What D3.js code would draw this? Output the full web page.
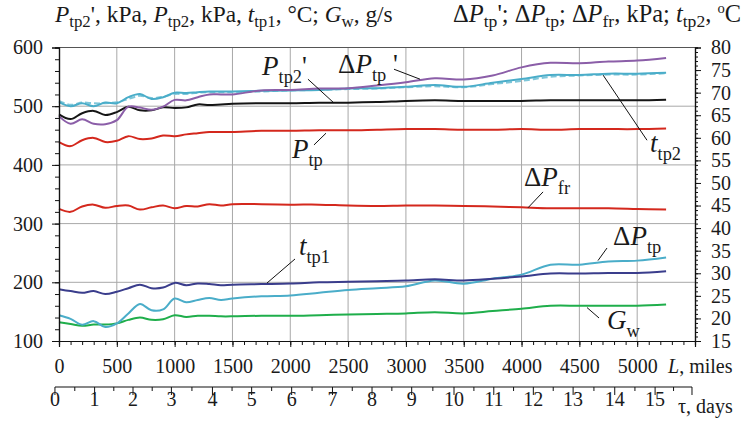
<!DOCTYPE html>
<html><head><meta charset="utf-8">
<script src="https://cdn.jsdelivr.net/npm/d3@7"></script>
<style>
body{margin:0;background:#fff}
svg{display:block}
text, tspan{font-family:"Liberation Serif","Times New Roman",serif;fill:#1a1a1a}
</style>
</head><body>
<svg id="c" width="745" height="424"></svg>
<script>
// ---------------- DATA ----------------
const miles = [0,100,200,300,400,500,600,700,800,900,1000,1100,1200,1300,1400,1500,
  1750,2000,2250,2500,2750,3000,3250,3500,3750,4000,4250,4500,4750,5000,5250];
// left axis series (kPa, °C, g/s)
const pTp2p = [486,478,488,492,485,490,499,493,493,498,497,498,503,502,503,504,
  505,505,506,506,507,509,510,509,509,509,510,510,510,510,511];
const pTp = [439,432,442,446,439,441,449,444,445,450,449,452,454,456,456,456,
  458,458,459,459,460,461,461,460,460,461,460,461,461,461,462];
const tTp1 = [188,185,182,185,180,184,190,196,190,191,199,195,198,197,195,196,
  197,198,200,201,202,203,205,203,206,210,215,215,216,216,219];
const gW = [132,129,126,128,128,130,136,140,136,137,144,141,143,143,142,142,
  143,143,144,145,146,147,149,147,151,155,160,160,160,160,162];
// right axis series (kPa, °C)
const dPtpP = [64.8,63.1,64.1,63.1,63.0,63.9,66.9,66.7,66.2,66.9,68.4,68.3,69.0,69.6,69.6,69.6,
  70.5,70.6,70.9,71.0,71.6,72.3,73.2,72.9,73.8,75.6,76.6,76.5,76.9,77.1,77.7];
const tTp2 = [67.9,67.0,67.65,67.0,67.8,67.65,69.0,69.7,68.6,69.0,70.0,69.9,70.1,70.25,70.25,70.25,
  70.4,70.5,70.6,70.9,71.0,71.3,71.7,71.3,72.2,73.0,73.9,73.9,74.2,74.2,74.4];
const tTp2b = [68.2,67.3,67.8,67.65,67.65,67.9,68.6,69.3,68.8,69.1,69.7,69.7,70.0,70.1,70.1,70.1,
  70.25,70.5,70.6,70.8,70.9,71.2,71.4,71.2,71.9,72.6,73.5,73.8,74.0,74.0,74.3];
const dPfr = [44.25,43.6,44.8,45.2,44.5,44.9,45.0,44.1,44.6,45.0,44.4,44.9,44.8,45.3,45.0,45.3,
  45.3,45.2,45.2,45.0,44.9,45.0,45.0,44.9,44.8,44.6,44.4,44.4,44.4,44.25,44.1];
const dPtp = [20.7,19.9,18.6,19.4,18.1,18.9,21.1,23.2,21.8,22.0,24.4,23.6,24.1,24.5,24.1,24.4,
  24.9,25.1,25.7,26.3,26.7,27.1,28.4,27.7,28.8,29.7,31.9,31.9,32.6,32.8,33.5];
// tick labels
const leftTicks = [100,200,300,400,500,600];
const rightTicks = [15,20,25,30,35,40,45,50,55,60,65,70,75,80];
const mileTicks = [0,500,1000,1500,2000,2500,3000,3500,4000,4500,5000];
const dayLabels = ["0","1","2","3","4","5","6","7","8","9","10","11","12","13","14","15"];
// mileage equivalent of each day (0..16) on the time axis
const dayMiles = [-35,308,640,972,1327,1666,2012,2365,2707,3050,3416,3760,4102,4446,4806,5155,5474];

// ---------------- SETUP ----------------
const FONT = '"Liberation Serif","Times New Roman",serif';
const svg = d3.select("#c");
const x = d3.scaleLinear().domain([0,5500]).range([59,695]);
const yL = d3.scaleLinear().domain([100,600]).range([341,47.5]);
const yR = d3.scaleLinear().domain([15,80]).range([341,47.5]);

// rich text helper
function rich(g, px, py, parts, size, opts={}) {
  const t = g.append("text").attr("x", px).attr("y", py)
    .attr("text-anchor", opts.anchor || "start").style("font-size", size + "px")
    .style("font-family", FONT);
  let cur = 0;
  const subR = opts.subR || 0.68, subOff = opts.subOff || 0.3;
  parts.forEach(([s, k]) => {
    let target = 0, fs = size, it = false;
    if (k === "i") it = true;
    if (k === "s") { target = size * subOff; fs = size * subR; }
    if (k === "sup") { target = -size * 0.38; fs = size * 0.6; }
    t.append("tspan").attr("dy", target - cur).style("font-size", fs + "px")
      .style("font-style", it ? "italic" : "normal").text(s);
    cur = target;
  });
  return t;
}
// rich text fitted to a given width
function richFit(g, px, py, parts, size, width, opts) {
  const t = rich(g, px, py, parts, size, opts);
  const w = t.node().getComputedTextLength();
  t.remove();
  return rich(g, px, py, parts, size * width / w, opts);
}

// grid
const grid = svg.append("g").attr("stroke", "#a8a8a8").attr("stroke-width", 1);
grid.selectAll("line.v").data(d3.range(500, 5001, 500)).join("line")
  .attr("x1", d => x(d)).attr("x2", d => x(d)).attr("y1", yL(600)).attr("y2", yL(100));
grid.selectAll("line.h").data([200,300,400,500]).join("line")
  .attr("x1", x(0)).attr("x2", x(5500)).attr("y1", d => yL(d)).attr("y2", d => yL(d));
svg.append("line").attr("x1", x(0)).attr("x2", x(5500)).attr("y1", yL(600)).attr("y2", yL(600))
  .attr("stroke", "#555").attr("stroke-width", 1);

// lines
const series = [
  {v: gW, y: yL, c: "#1fae4b"},
  {v: dPtp, y: yR, c: "#4aadc9"},
  {v: tTp1, y: yL, c: "#3a3d8c"},
  {v: dPfr, y: yR, c: "#d4281d"},
  {v: pTp, y: yL, c: "#d4281d"},
  {v: pTp2p, y: yL, c: "#151515"},
  {v: tTp2b, y: yR, c: "#7fc6d9", dash: "6,3"},
  {v: tTp2, y: yR, c: "#4aadc9"},
  {v: dPtpP, y: yR, c: "#8b5ea8"}
];
series.forEach(s => {
  const line = d3.line().x((d, i) => x(miles[i])).y(d => s.y(d)).curve(d3.curveCatmullRom.alpha(0.5));
  svg.append("path").datum(s.v).attr("d", line).attr("fill", "none")
    .attr("stroke", s.c).attr("stroke-width", 2).attr("stroke-linejoin", "round")
    .attr("stroke-dasharray", s.dash || null);
});

// axes
function styleAxis(g) {
  g.attr("font-family", FONT).attr("font-size", 20);
  g.select(".domain").attr("stroke", "#111").attr("stroke-width", 1.2);
  g.selectAll(".tick line").attr("stroke", "#111");
  g.selectAll("text").style("font-size", "20px").style("font-family", FONT).attr("fill", "#1a1a1a");
}
// left
svg.append("g").attr("transform", `translate(${x(0)},0)`)
  .call(d3.axisLeft(yL).tickValues(d3.range(100, 601, 20)).tickSize(4).tickFormat(""))
  .call(styleAxis);
svg.append("g").attr("transform", `translate(${x(0)},0)`)
  .call(d3.axisLeft(yL).tickValues(leftTicks).tickSize(7).tickPadding(9).tickFormat(d3.format("d")))
  .call(styleAxis);
// right
svg.append("g").attr("transform", `translate(${x(5500)},0)`)
  .call(d3.axisRight(yR).tickValues(d3.range(15, 81, 1)).tickSize(3).tickFormat(""))
  .call(styleAxis);
svg.append("g").attr("transform", `translate(${x(5500)},0)`)
  .call(d3.axisRight(yR).tickValues(rightTicks).tickSize(6).tickPadding(10).tickFormat(d3.format("d")))
  .call(styleAxis);
// bottom (miles)
svg.append("g").attr("transform", `translate(0,${yL(100)})`)
  .call(d3.axisBottom(x).tickValues(d3.range(0, 5501, 100)).tickSize(4).tickFormat(""))
  .call(styleAxis);
svg.append("g").attr("transform", `translate(0,${yL(100)})`)
  .call(d3.axisBottom(x).tickValues(mileTicks).tickSize(6).tickPadding(12).tickFormat(d3.format("d")))
  .call(styleAxis);
rich(svg, 668, 373, [["L","i"],[", miles","n"]], 20);

// days axis
const dy0 = 387;
const dg = svg.append("g");
dg.append("line").attr("x1", x(dayMiles[0])).attr("x2", x(dayMiles[dayMiles.length-1]))
  .attr("y1", dy0).attr("y2", dy0).attr("stroke", "#111").attr("stroke-width", 1.2);
dg.selectAll("line.maj").data(dayMiles).join("line")
  .attr("x1", d => x(d)).attr("x2", d => x(d)).attr("y1", dy0).attr("y2", dy0 + 8).attr("stroke", "#111");
const halves = d3.pairs(dayMiles).map(([a, b]) => (a + b) / 2);
dg.selectAll("line.min").data(halves).join("line")
  .attr("x1", d => x(d)).attr("x2", d => x(d)).attr("y1", dy0).attr("y2", dy0 + 4).attr("stroke", "#111");
dg.selectAll("text").data(dayLabels).join("text")
  .attr("x", (d, i) => x(dayMiles[i])).attr("y", 406).attr("text-anchor", "middle")
  .style("font-size", "20px").style("font-family", FONT).text(d => d);
rich(svg, 678, 413, [["τ, days","n"]], 20);

// titles
richFit(svg, 55, 22, [["P","i"],["tp2","s"],["', kPa, ","n"],["P","i"],["tp2","s"],[", kPa, ","n"],
  ["t","i"],["tp1","s"],[", °C; ","n"],["G","i"],["w","s"],[", g/s","n"]], 21, 338, {subOff: 0.22, subR: 0.72});
richFit(svg, 741, 22, [["Δ","n"],["P","i"],["tp","s"],["'; Δ","n"],["P","i"],["tp","s"],["; Δ","n"],
  ["P","i"],["fr","s"],[", kPa; ","n"],["t","i"],["tp2","s"],[", ","n"],["o","sup"],["C","n"]], 21, 288,
  {anchor: "end", subOff: 0.22, subR: 0.72});

// annotations (positions in left-axis data units)
const notes = [
  {t: [["P","i"],["tp2","s"],["'","n"]], at: [1756, 553], l: [[2153, 546], [2378, 505.5]]},
  {t: [["Δ","n"],["P","i"],["tp","s"],[" '","n"]], at: [2413, 556.6], l: [[2897, 563], [3122, 546]]},
  {t: [["P","i"],["tp","s"]], at: [2015, 411.8], l: [[2205, 434], [2309, 454]]},
  {t: [["t","i"],["tp2","s"]], at: [5111, 422], l: [[5085, 442], [4705, 553]]},
  {t: [["Δ","n"],["P","i"],["fr","s"]], at: [4021, 364], l: [[4186, 354], [4056, 327]]},
  {t: [["t","i"],["tp1","s"]], at: [2075, 246.5], l: [[2041, 239.7], [1799, 198.8]]},
  {t: [["Δ","n"],["P","i"],["tp","s"]], at: [4791, 263.5], l: [[4739, 258.4], [4661, 237]]},
  {t: [["G","i"],["w","s"]], at: [4739, 120.4], l: [[4670, 139.2], [4566, 157]]}
];
notes.forEach(n => {
  svg.append("line").attr("x1", x(n.l[0][0])).attr("y1", yL(n.l[0][1]))
    .attr("x2", x(n.l[1][0])).attr("y2", yL(n.l[1][1])).attr("stroke", "#111").attr("stroke-width", 1);
  rich(svg, x(n.at[0]), yL(n.at[1]), n.t, 27, {subR: 0.68, subOff: 0.3});
});
</script>
</body></html>
